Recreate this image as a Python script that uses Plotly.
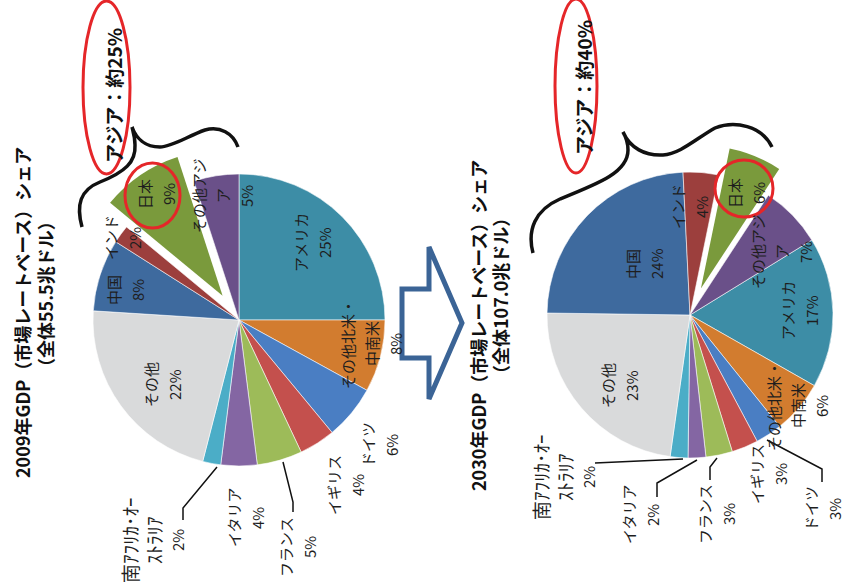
import math
import plotly.graph_objects as go

W, H = 847, 585

# ---- data -----------------------------------------------------------------
categories = ["アメリカ", "その他北米・中南米", "ドイツ", "イギリス", "フランス", "イタリア",
              "南アフリカ・オーストラリア", "その他", "中国", "インド", "日本", "その他アジア"]
share_2009 = [25, 8, 6, 4, 5, 4, 2, 22, 8, 2, 9, 5]
share_2030 = [17, 6, 3, 3, 3, 2, 2, 23, 24, 4, 6, 7]

# how each category name is broken into lines on the chart
label_lines = [["アメリカ"], ["その他北米・", "中南米"], ["ドイツ"], ["イギリス"], ["フランス"],
               ["イタリア"], ["南ｱﾌﾘｶ･ｵｰ", "ｽﾄﾗﾘｱ"], ["その他"], ["中国"], ["インド"],
               ["日本"], ["その他アジ", "ア"]]

titles_2009 = ["2009年GDP（市場レートベース）シェア", "（全体55.5兆ドル）"]
titles_2030 = ["2030年GDP（市場レートベース）シェア", "（全体107.0兆ドル）"]
asia_notes = ["アジア：約25%", "アジア：約40%"]
highlight = "日本"

# ---- styling --------------------------------------------------------------
slice_colors = ["#3D8DA6", "#D27C2F", "#4A7EC3", "#C4504D", "#9DBB59", "#8466A3",
                "#4BADC7", "#D9DADB", "#3E6A9E", "#9C3F3D", "#7A9A3C", "#6A5089"]
FONT = "Noto Sans CJK JP, Noto Sans, sans-serif"
TXT = "#1e1e1e"
PULL = 0.2
LINE_STEP = 24
HALFWIDTH_SIZE = 19   # half-width katakana lines need a larger size to read at the same width

panels = [
    dict(values=share_2009, cx=239, cy=320, r=146, rotation=0,
         labels={"アメリカ": (300, 243), "その他北米・中南米": (347, 344), "ドイツ": (367, 445),
                 "イギリス": (333, 485), "フランス": (285, 547), "イタリア": (233, 518),
                 "南アフリカ・オーストラリア": (129, 540), "その他": (150, 385), "中国": (113, 290),
                 "インド": (110, 238), "日本": (144, 194), "その他アジア": (198, 196)},
         titles=titles_2009, title_pos=[(22, 313), (45, 294)],
         note=asia_notes[0], note_pos=(113, 96)),
    dict(values=share_2030, cx=690, cy=315, r=143, rotation=58.4,
         labels={"アメリカ": (787, 311), "その他北米・中南米": (773, 406), "ドイツ": (810, 509),
                 "イギリス": (756, 474), "フランス": (704, 514), "イタリア": (628, 515),
                 "南アフリカ・オーストラリア": (540, 477), "その他": (607, 386), "中国": (632, 264),
                 "インド": (677, 207), "日本": (734, 193), "その他アジア": (757, 252)},
         titles=titles_2030, title_pos=[(478, 326), (500, 296)],
         note=asia_notes[1], note_pos=(583, 88)),
]


def pie_domain(cx, cy, r):
    return dict(x=[(cx - r) / W, (cx + r) / W], y=[1 - (cy + r) / H, 1 - (cy - r) / H])


def is_halfwidth(t):
    return any("\uff61" <= ch <= "\uff9f" for ch in t)


fig = go.Figure()
# invisible cartesian layer in pixel units for shapes and labels
fig.add_trace(go.Scatter(x=[None], y=[None], hoverinfo="skip", showlegend=False))

annotations = []
hi = categories.index(highlight)

for p in panels:
    vals = p["values"]
    total = sum(vals)
    base_colors = [("rgba(0,0,0,0)" if i == hi else c) for i, c in enumerate(slice_colors)]
    line_w = [0 if i == hi else 0.8 for i in range(len(vals))]
    fig.add_trace(go.Pie(
        values=vals, labels=categories, sort=False, direction="clockwise",
        rotation=p["rotation"], textinfo="none", hoverinfo="skip", showlegend=False,
        marker=dict(colors=base_colors, line=dict(color="rgba(255,255,255,0.7)", width=line_w)),
        domain=pie_domain(p["cx"], p["cy"], p["r"]),
    ))
    # highlighted slice, pulled out from the centre along its mid angle
    start = sum(vals[:hi]) / total * 360 + p["rotation"]
    mid = math.radians(start + vals[hi] / total * 180)
    dx = PULL * p["r"] * math.sin(mid)
    dy = -PULL * p["r"] * math.cos(mid)
    hi_colors = [(c if i == hi else "rgba(0,0,0,0)") for i, c in enumerate(slice_colors)]
    fig.add_trace(go.Pie(
        values=vals, labels=categories, sort=False, direction="clockwise",
        rotation=p["rotation"], textinfo="none", hoverinfo="skip", showlegend=False,
        marker=dict(colors=hi_colors, line=dict(width=0)),
        domain=pie_domain(p["cx"] + dx, p["cy"] + dy, p["r"]),
    ))

    # slice labels
    for i, cat in enumerate(categories):
        x0, y0 = p["labels"][cat]
        lines = label_lines[i] + [f"{vals[i]}%"]
        for k, t in enumerate(lines):
            size = HALFWIDTH_SIZE if is_halfwidth(t) else 15
            annotations.append(dict(
                x=x0 + k * LINE_STEP, y=y0, xref="x", yref="y", text=t, textangle=-90,
                showarrow=False, xanchor="center", yanchor="middle",
                font=dict(family=FONT, size=size, color=TXT)))

    for t, (tx, ty) in zip(p["titles"], p["title_pos"]):
        annotations.append(dict(
            x=tx, y=ty, xref="x", yref="y", text=f"<b>{t}</b>", textangle=-90,
            showarrow=False, xanchor="center", yanchor="middle",
            font=dict(family=FONT, size=18, color="#111111")))
    nx, ny = p["note_pos"]
    annotations.append(dict(
        x=nx, y=ny, xref="x", yref="y", text=f"<b>{p['note']}</b>", textangle=-90,
        showarrow=False, xanchor="center", yanchor="middle",
        font=dict(family=FONT, size=19, color="#111111")))

RED = "#E52629"
shapes = []
# red rings
for x0, y0, x1, y1 in [(83, 1, 130, 174), (555, -1, 597, 173), (125, 163, 180, 228), (715, 160, 773, 217)]:
    shapes.append(dict(type="circle", xref="x", yref="y", x0=x0, y0=y0, x1=x1, y1=y1,
                       line=dict(color=RED, width=3)))
# curly braces over the Asian slices
braces = [
    "M 82 227 C 76 205, 80 190, 100 182 C 125 172, 136 162, 135 145 C 135 137, 133 131, 132 127 "
    "C 136 138, 145 147, 160 147 C 172 147, 188 136, 205 130 C 220 126, 233 133, 238 147",
    "M 533 253 C 527 230, 535 210, 560 199 C 600 183, 628 172, 628 150 C 628 143, 626 137, 623 132 "
    "C 630 148, 645 156, 663 155 C 680 154, 697 138, 715 128 C 735 120, 762 126, 772 147",
]
for b in braces:
    shapes.append(dict(type="path", xref="x", yref="y", path=b,
                       line=dict(color="#111111", width=3.5)))
# block arrow between the two years
shapes.append(dict(type="path", xref="x", yref="y",
                   path="M 402 289 L 429 289 L 429 247 L 462 323 L 429 399 L 429 358 L 402 358 Z",
                   fillcolor="white", line=dict(color="#3B6496", width=5)))
# leader lines for the small slices
leaders = [
    "M 217 467 L 183 508 L 183 520",
    "M 283 462 L 293 502 L 293 512",
    "M 683 459 L 595 463",
    "M 697 460 L 657 483 L 657 497",
    "M 717 458 L 710 467 L 710 480",
    "M 767 440 L 822 469 L 822 482",
]
for l in leaders:
    shapes.append(dict(type="path", xref="x", yref="y", path=l,
                       line=dict(color="#111111", width=1.5)))

fig.update_layout(
    width=W, height=H, margin=dict(l=0, r=0, t=0, b=0),
    paper_bgcolor="white", plot_bgcolor="white", showlegend=False,
    xaxis=dict(range=[0, W], visible=False, fixedrange=True),
    yaxis=dict(range=[H, 0], visible=False, fixedrange=True),
    annotations=annotations, shapes=shapes,
)

fig.write_html("out.html")
